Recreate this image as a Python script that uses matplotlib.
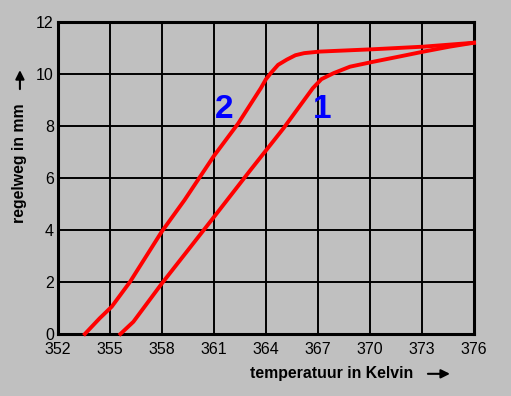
import matplotlib.pyplot as plt

# curve 2 (left) and curve 1 (right): temperature in K vs stroke in mm
curve2_T = [353.55, 354.4, 355.1, 356.15, 358.0, 359.3, 361.0, 362.4, 363.7,
            364.0, 364.3, 364.7, 365.2, 365.7, 366.2, 367.1, 370.2, 373.1, 376.0]
curve2_y = [0.0, 0.6, 1.05, 2.0, 3.95, 5.15, 6.85, 8.1, 9.45,
            9.8, 10.05, 10.35, 10.55, 10.72, 10.8, 10.86, 10.95, 11.05, 11.2]

curve1_T = [355.6, 356.35, 358.0, 361.0, 363.1, 365.0, 366.7, 367.2, 367.9,
            368.85, 370.2, 371.7, 373.1, 374.6, 376.0]
curve1_y = [0.0, 0.47, 1.95, 4.5, 6.3, 7.9, 9.45, 9.8, 10.03,
            10.28, 10.47, 10.67, 10.86, 11.05, 11.2]

xticks = [352, 355, 358, 361, 364, 367, 370, 373, 376]
yticks = [0, 2, 4, 6, 8, 10, 12]

bg = '#c0c0c0'
plt.rcParams['font.family'] = ['Liberation Sans', 'DejaVu Sans']

fig = plt.figure(figsize=(5.11, 3.96), dpi=100, facecolor=bg)
ax = fig.add_axes([0.1135, 0.1566, 0.814, 0.788], facecolor=bg)

ax.plot(curve2_T, curve2_y, color='#ff0000', lw=2.8, zorder=3, clip_on=False)
ax.plot(curve1_T, curve1_y, color='#ff0000', lw=2.8, zorder=3, clip_on=False)

ax.text(361.6, 8.65, '2', color='#0000ff', fontsize=24, fontweight='bold',
        ha='center', va='center')
ax.text(367.25, 8.65, '1', color='#0000ff', fontsize=24, fontweight='bold',
        ha='center', va='center')

ax.set_xlim(352, 376)
ax.set_ylim(0, 12)
ax.set_xticks(xticks)
ax.set_yticks(yticks)
ax.grid(color='black', lw=1.4)
ax.set_axisbelow(True)
for s in ax.spines.values():
    s.set_linewidth(2.2)
ax.tick_params(length=0, labelsize=11.5)
ax.tick_params(axis='x', pad=6)
ax.tick_params(axis='y', pad=3)

fig.text(0.489, 0.056, 'temperatuur in Kelvin', fontsize=11.4, fontweight='bold',
         ha='left', va='center')
ax.annotate('', xy=(0.886, 0.056), xytext=(0.832, 0.056), xycoords='figure fraction',
            arrowprops=dict(arrowstyle='-|>', color='black', lw=1.5, mutation_scale=13))

fig.text(0.039, 0.587, 'regelweg in mm', fontsize=11.4, fontweight='bold',
         rotation=90, ha='center', va='center')
ax.annotate('', xy=(0.039, 0.83), xytext=(0.039, 0.768), xycoords='figure fraction',
            arrowprops=dict(arrowstyle='-|>', color='black', lw=1.5, mutation_scale=13))

plt.savefig('out.png', dpi=100, facecolor=bg)
plt.close()
